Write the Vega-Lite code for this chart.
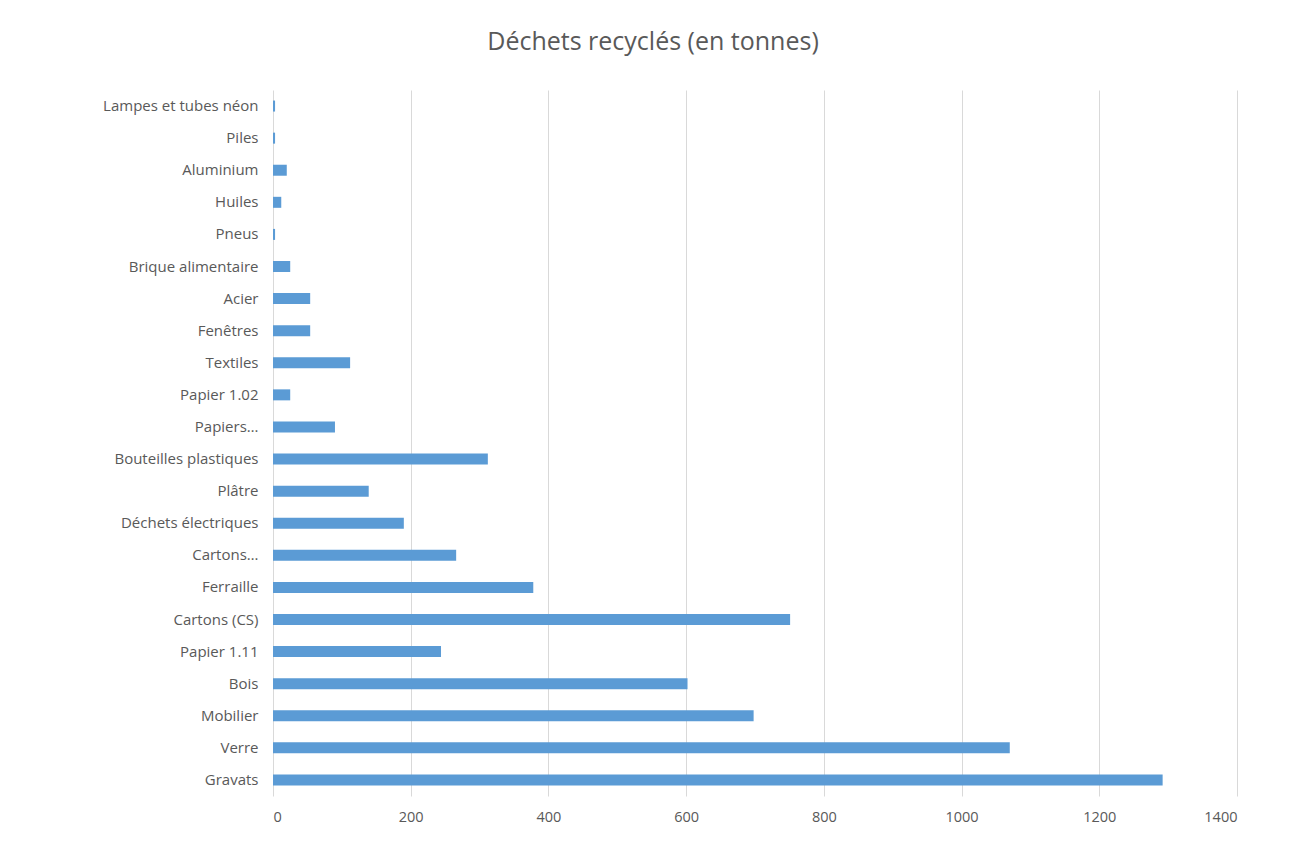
{
  "$schema": "https://vega.github.io/schema/vega-lite/v6.json",
  "autosize": "none",
  "width": 964,
  "height": 706,
  "padding": {"left": 273, "top": 90, "right": 69, "bottom": 50},
  "background": "white",
  "title": {
    "text": "Déchets recyclés (en tonnes)",
    "font": "Open Sans",
    "fontSize": 25,
    "fontWeight": "normal",
    "color": "#595959",
    "anchor": "middle",
    "dx": -102,
    "offset": 35
  },
  "data": {
    "values": [
      {"categorie": "Lampes et tubes néon", "tonnes": 3},
      {"categorie": "Piles", "tonnes": 3},
      {"categorie": "Aluminium", "tonnes": 20},
      {"categorie": "Huiles", "tonnes": 12},
      {"categorie": "Pneus", "tonnes": 3},
      {"categorie": "Brique alimentaire", "tonnes": 25},
      {"categorie": "Acier", "tonnes": 54},
      {"categorie": "Fenêtres", "tonnes": 54},
      {"categorie": "Textiles", "tonnes": 112},
      {"categorie": "Papier 1.02", "tonnes": 25},
      {"categorie": "Papiers…", "tonnes": 90},
      {"categorie": "Bouteilles plastiques", "tonnes": 312},
      {"categorie": "Plâtre", "tonnes": 139},
      {"categorie": "Déchets électriques", "tonnes": 190},
      {"categorie": "Cartons…", "tonnes": 266},
      {"categorie": "Ferraille", "tonnes": 378},
      {"categorie": "Cartons (CS)", "tonnes": 751},
      {"categorie": "Papier 1.11", "tonnes": 244},
      {"categorie": "Bois", "tonnes": 602},
      {"categorie": "Mobilier", "tonnes": 698},
      {"categorie": "Verre", "tonnes": 1070},
      {"categorie": "Gravats", "tonnes": 1292}
    ]
  },
  "mark": {"type": "bar", "size": 11, "color": "#5b9bd5"},
  "encoding": {
    "y": {
      "field": "categorie",
      "type": "nominal",
      "sort": null,
      "scale": {"paddingInner": 0, "paddingOuter": 0},
      "axis": {
        "title": null,
        "domain": false,
        "ticks": false,
        "labelFont": "Open Sans",
        "labelFontSize": 15,
        "labelColor": "#595959",
        "labelPadding": 15,
        "labelLimit": 300
      }
    },
    "x": {
      "field": "tonnes",
      "type": "quantitative",
      "scale": {"domain": [0, 1400], "nice": false},
      "axis": {
        "title": null,
        "values": [0, 200, 400, 600, 800, 1000, 1200, 1400],
        "format": "d",
        "domain": false,
        "ticks": false,
        "grid": true,
        "gridColor": "#d9d9d9",
        "gridWidth": 1,
        "labelFont": "Open Sans",
        "labelFontSize": 14.5,
        "labelColor": "#595959",
        "labelPadding": 14
      }
    }
  },
  "config": {"view": {"stroke": null}}
}
